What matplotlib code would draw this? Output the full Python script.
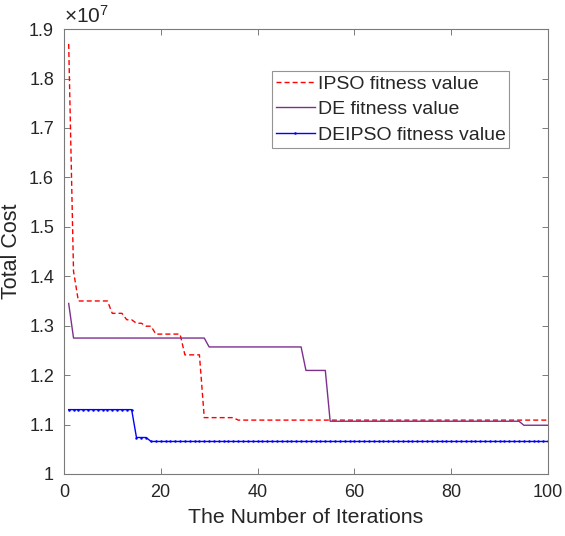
import numpy as np
import matplotlib
matplotlib.use('Agg')
from matplotlib import pyplot as plt
from matplotlib.ticker import FuncFormatter

plt.rcParams['font.family'] = ['Liberation Sans', 'DejaVu Sans']
plt.rcParams['mathtext.fontset'] = 'custom'
plt.rcParams['mathtext.rm'] = 'Liberation Sans'
plt.rcParams['mathtext.it'] = 'Liberation Sans'

# Convergence curves, stored as (value, number of iterations held) runs.
iterations = np.arange(1, 101)

ipso_levels = [1.87e7, 1.41e7, 1.35e7, 1.325e7, 1.312e7, 1.305e7, 1.299e7,
               1.283e7, 1.241e7, 1.114e7, 1.109e7]
ipso_runs = [1, 1, 7, 3, 2, 2, 2, 6, 4, 7, 65]

de_levels = [1.345e7, 1.275e7, 1.257e7, 1.2095e7, 1.1067e7, 1.0986e7]
de_runs = [1, 28, 20, 5, 40, 6]

deipso_levels = [1.1302e7, 1.0738e7, 1.0658e7]
deipso_runs = [14, 3, 83]

ipso = np.repeat(ipso_levels, ipso_runs)
de = np.repeat(de_levels, de_runs)
deipso = np.repeat(deipso_levels, deipso_runs)

text_col = '#262626'
axis_col = '#7a7a7a'

fig = plt.figure(figsize=(5.65, 5.36), dpi=100)
ax = fig.add_axes([0.113, 0.1157, 0.857, 0.830])

ax.plot(iterations, ipso, color='#ff0000', lw=1.0, dashes=(3.6, 2.2), label='IPSO fitness value')
ax.plot(iterations, de, color='#7e2f8e', lw=1.0, label='DE fitness value')
ax.plot(iterations, deipso, color='#0000ff', lw=1.0, marker='.', markersize=1.6,
        label='DEIPSO fitness value')

ax.set_xlim(0, 100)
ax.set_ylim(1.0e7, 1.9e7)
ax.set_xticks([0, 20, 40, 60, 80, 100])
ax.set_yticks(np.arange(10, 19.5, 1) * 1e6)
ax.yaxis.set_major_formatter(FuncFormatter(lambda v, p: f'{v / 1e7:g}'))
ax.text(0.0, 1.006, r'$\times10^{7}$', transform=ax.transAxes, fontsize=15,
        color=text_col, ha='left', va='bottom')

ax.tick_params(direction='in', top=True, right=True, length=4, width=0.7,
               colors=axis_col, labelcolor=text_col, labelsize=13, pad=7)
for s in ax.spines.values():
    s.set_color(axis_col)
    s.set_linewidth(0.8)

ax.set_xlabel('The Number of Iterations', fontsize=15.3, color=text_col, labelpad=5)
ax.set_ylabel('Total Cost', fontsize=15.5, color=text_col, labelpad=5)

leg = ax.legend(loc='upper right', bbox_to_anchor=(0.92, 0.905), fontsize=14,
                frameon=True, fancybox=False, handlelength=2.0, handletextpad=0.15,
                borderpad=0.2, labelspacing=0.4, borderaxespad=0)
leg.get_frame().set_edgecolor(axis_col)
leg.get_frame().set_linewidth(0.8)
for t in leg.get_texts():
    t.set_color(text_col)

plt.savefig('out.png', dpi=100)
